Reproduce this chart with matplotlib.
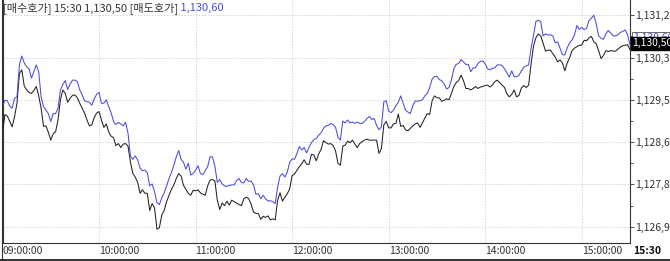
import numpy as np
import matplotlib
matplotlib.use("Agg")
import matplotlib.pyplot as plt
from matplotlib.ticker import FixedLocator, FuncFormatter
from matplotlib.lines import Line2D

plt.rcParams["font.family"] = ["Noto Sans CJK KR", "DejaVu Sans"]

# minutes after 09:00, one reading every 1.5 minutes (one row = 15 min)
minutes = np.arange(0, 390.1, 1.5)

# 매도호가 (ask, blue)
ask = [
    1129.34, 1129.47, 1129.46, 1129.35, 1129.31, 1129.51, 1129.54, 1130.19, 1130.37, 1130.23,
    1130.15, 1130.11, 1129.92, 1130.05, 1130.19, 1130.05, 1129.54, 1129.34, 1129.27, 1129.20,
    1129.04, 1129.20, 1129.20, 1129.31, 1129.68, 1129.79, 1129.87, 1129.69, 1129.80, 1129.88,
    1129.88, 1129.85, 1129.68, 1129.58, 1129.46, 1129.44, 1129.43, 1129.37, 1129.50, 1129.59,
    1129.63, 1129.41, 1129.41, 1129.48, 1129.34, 1129.22, 1129.04, 1128.98, 1129.02, 1128.99,
    1128.95, 1129.02, 1128.80, 1128.34, 1128.27, 1128.34, 1128.26, 1128.09, 1128.04, 1128.05,
    1128.00, 1127.73, 1127.77, 1127.61, 1127.39, 1127.35, 1127.49, 1127.59, 1127.73, 1127.88,
    1128.00, 1128.15, 1128.32, 1128.45, 1128.27, 1128.21, 1128.07, 1128.19, 1127.95, 1127.98,
    1128.05, 1128.14, 1127.98, 1127.96, 1128.04, 1128.12, 1128.32, 1128.32, 1128.13, 1127.80,
    1127.86, 1127.77, 1127.73, 1127.72, 1127.74, 1127.75, 1127.75, 1127.84, 1127.88, 1127.80,
    1127.79, 1127.88, 1127.82, 1127.83, 1127.75, 1127.56, 1127.57, 1127.47, 1127.54, 1127.47,
    1127.42, 1127.43, 1127.41, 1127.37, 1127.71, 1127.93, 1127.98, 1127.91, 1128.01, 1128.21,
    1128.28, 1128.27, 1128.39, 1128.53, 1128.46, 1128.51, 1128.40, 1128.51, 1128.61, 1128.67,
    1128.69, 1128.76, 1128.81, 1128.90, 1128.95, 1128.96, 1129.00, 1128.98, 1128.92, 1128.72,
    1128.66, 1129.05, 1129.01, 1129.07, 1129.01, 1129.03, 1129.00, 1129.03, 1129.00, 1129.00,
    1129.04, 1129.10, 1129.14, 1129.08, 1129.10, 1128.96, 1128.87, 1128.93, 1129.44, 1129.46,
    1129.25, 1129.22, 1129.27, 1129.36, 1129.43, 1129.56, 1129.41, 1129.27, 1129.23, 1129.20,
    1129.36, 1129.46, 1129.45, 1129.46, 1129.48, 1129.56, 1129.61, 1129.73, 1129.90, 1129.95,
    1129.96, 1129.89, 1129.87, 1129.80, 1129.70, 1129.73, 1129.88, 1130.11, 1130.20, 1130.22,
    1130.30, 1130.25, 1130.20, 1130.20, 1130.05, 1130.13, 1130.13, 1130.22, 1130.26, 1130.27,
    1130.21, 1130.11, 1130.09, 1130.12, 1130.13, 1130.19, 1130.19, 1130.18, 1130.11, 1130.03,
    1129.94, 1130.07, 1129.95, 1129.95, 1129.98, 1130.07, 1130.14, 1130.17, 1130.19, 1130.53,
    1130.78, 1131.07, 1131.10, 1131.07, 1130.78, 1130.82, 1130.80, 1130.80, 1130.78, 1130.64,
    1130.66, 1130.53, 1130.40, 1130.39, 1130.54, 1130.64, 1130.70, 1130.80, 1130.99, 1130.91,
    1130.95, 1130.91, 1130.93, 1131.09, 1131.14, 1131.20, 1131.03, 1130.78, 1130.73, 1130.71,
    1130.82, 1130.89, 1130.84, 1130.78, 1130.78, 1130.80, 1130.85, 1130.87, 1130.90, 1130.80,
    1130.60,
]

# 매수호가 (bid, black)
bid = [
    1128.80, 1129.18, 1129.15, 1129.04, 1128.93, 1129.14, 1129.41, 1130.01, 1130.09, 1129.76,
    1129.68, 1129.63, 1129.61, 1129.67, 1129.75, 1129.56, 1129.31, 1128.94, 1128.95, 1128.82,
    1128.66, 1128.79, 1128.83, 1129.07, 1129.48, 1129.68, 1129.61, 1129.43, 1129.51, 1129.57,
    1129.58, 1129.52, 1129.41, 1129.31, 1129.21, 1129.07, 1128.95, 1128.97, 1129.12, 1129.21,
    1129.24, 1129.07, 1128.92, 1128.99, 1128.83, 1128.74, 1128.71, 1128.55, 1128.59, 1128.51,
    1128.58, 1128.59, 1128.54, 1128.22, 1127.98, 1127.91, 1127.80, 1127.58, 1127.65, 1127.58,
    1127.58, 1127.23, 1127.37, 1127.28, 1126.85, 1126.88, 1127.14, 1127.23, 1127.41, 1127.54,
    1127.66, 1127.75, 1127.88, 1127.98, 1127.93, 1127.74, 1127.66, 1127.58, 1127.54, 1127.64,
    1127.63, 1127.65, 1127.59, 1127.56, 1127.54, 1127.73, 1127.85, 1127.86, 1127.83, 1127.44,
    1127.25, 1127.38, 1127.33, 1127.42, 1127.34, 1127.44, 1127.41, 1127.38, 1127.35, 1127.33,
    1127.47, 1127.50, 1127.47, 1127.36, 1127.20, 1127.17, 1127.17, 1127.05, 1127.11, 1127.09,
    1127.12, 1127.04, 1127.06, 1127.04, 1127.44, 1127.59, 1127.42, 1127.50, 1127.57, 1127.67,
    1127.94, 1127.97, 1128.05, 1128.12, 1128.18, 1128.26, 1128.17, 1128.17, 1128.37, 1128.36,
    1128.24, 1128.38, 1128.47, 1128.65, 1128.61, 1128.58, 1128.59, 1128.55, 1128.44, 1128.19,
    1128.15, 1128.54, 1128.56, 1128.64, 1128.61, 1128.66, 1128.58, 1128.51, 1128.59, 1128.63,
    1128.66, 1128.68, 1128.66, 1128.66, 1128.66, 1128.66, 1128.39, 1128.49, 1128.97, 1129.04,
    1128.91, 1128.91, 1128.99, 1129.00, 1129.19, 1128.94, 1128.96, 1128.87, 1128.85, 1128.90,
    1128.95, 1128.99, 1129.01, 1128.92, 1129.01, 1129.11, 1129.20, 1129.18, 1129.46, 1129.56,
    1129.52, 1129.52, 1129.45, 1129.47, 1129.50, 1129.48, 1129.61, 1129.75, 1129.83, 1129.87,
    1129.98, 1129.87, 1129.71, 1129.71, 1129.68, 1129.71, 1129.75, 1129.71, 1129.74, 1129.75,
    1129.77, 1129.78, 1129.74, 1129.78, 1129.85, 1129.88, 1129.83, 1129.78, 1129.73, 1129.60,
    1129.54, 1129.59, 1129.68, 1129.54, 1129.57, 1129.72, 1129.77, 1129.73, 1129.78, 1130.20,
    1130.57, 1130.74, 1130.82, 1130.78, 1130.63, 1130.47, 1130.49, 1130.49, 1130.42, 1130.35,
    1130.25, 1130.29, 1130.23, 1130.07, 1130.23, 1130.34, 1130.48, 1130.53, 1130.56, 1130.59,
    1130.59, 1130.69, 1130.68, 1130.74, 1130.77, 1130.66, 1130.62, 1130.48, 1130.32, 1130.38,
    1130.48, 1130.46, 1130.48, 1130.47, 1130.47, 1130.51, 1130.55, 1130.58, 1130.59, 1130.60,
    1130.50,
]

time_ticks = [0, 60, 120, 180, 240, 300, 360]
time_labels = ["09:00:00", "10:00:00", "11:00:00", "12:00:00", "13:00:00", "14:00:00", "15:00:00"]
price_ticks = [1126.90, 1127.76, 1128.62, 1129.48, 1130.34, 1131.20]

last_time = "15:30"
last_bid = 1130.50
last_ask = 1130.60

BLUE = "#4b4bdc"
DARK = "#222222"
W, H = 670, 261


def fmt(v, nd):
    # comma as decimal separator, as the trading terminal shows it
    return f"{v:,.{nd}f}".replace(".", ",")


fig = plt.figure(figsize=(W / 100, H / 100), dpi=100)
ax = fig.add_axes([2.5 / W, 18 / H, 627.5 / W, 243 / H])

ax.plot(minutes, bid, color=DARK, lw=0.75, zorder=3)
ax.plot(minutes, ask, color=BLUE, lw=0.75, zorder=3)

ax.set_xlim(0, 390)
ax.set_ylim(1126.569, 1131.509)

ax.xaxis.set_major_locator(FixedLocator(time_ticks))
ax.set_xticklabels(time_labels, ha="left")
ax.tick_params(axis="x", length=0, pad=2, labelsize=7.5, labelcolor="#333333")

ax.yaxis.tick_right()
ax.yaxis.set_major_locator(FixedLocator(price_ticks))
ax.yaxis.set_minor_locator(FixedLocator(
    [(a + b) / 2 for a, b in zip(price_ticks[:-1], price_ticks[1:])]))
ax.yaxis.set_major_formatter(FuncFormatter(lambda v, p: fmt(v, 1)))
ax.tick_params(axis="y", which="major", direction="out", length=3, width=0.6,
               color="#333333", pad=1, labelsize=7.5, labelcolor="#333333")
ax.tick_params(axis="y", which="minor", direction="out", length=2, width=0.6,
               color="#333333")

ax.grid(True, which="major", color="#c8c8c8", lw=0.6, ls=(0, (1.5, 2)))
ax.set_axisbelow(True)
ax.spines["top"].set_visible(False)
for side in ["left", "right", "bottom"]:
    ax.spines[side].set_color("#333333")
    ax.spines[side].set_linewidth(0.8)

# last-price tags on the price axis (ask tag sits mostly behind the bid tag)
ax.annotate(fmt(last_ask, 2), xy=(1, last_ask), xycoords=ax.get_yaxis_transform(),
            xytext=(2, 4.5), textcoords="offset points", ha="left", va="center",
            fontsize=7.5, color=BLUE, annotation_clip=False, zorder=5,
            bbox=dict(boxstyle="square,pad=0.1", fc="white", ec="#333333", lw=0.5))
ax.annotate(fmt(last_bid, 2), xy=(1, last_bid), xycoords=ax.get_yaxis_transform(),
            xytext=(1.5, 4.5), textcoords="offset points", ha="left", va="center",
            fontsize=7.5, color="white", annotation_clip=False, zorder=6,
            bbox=dict(boxstyle="square,pad=0.12", fc="black", ec="black"))

ax.annotate(last_time, xy=(1, 0), xycoords="axes fraction", xytext=(2, -2),
            textcoords="offset points", ha="left", va="top", fontsize=7.5,
            fontweight="bold", color="#111111", annotation_clip=False)

# header
t1 = fig.text(3 / W, 1 - 8 / H, f"[매수호가] {last_time} {fmt(last_bid, 2)} [매도호가]",
              fontsize=8, color="#333333", va="center", ha="left")
ax.annotate(" " + fmt(last_ask, 2), xy=(1, 0.5), xycoords=t1, ha="left", va="center",
            fontsize=8, color=BLUE, annotation_clip=False)

# outer frame of the panel
fig.add_artist(Line2D([1.5 / W, 1.5 / W], [0, 1], color="#333333", lw=0.8))
fig.add_artist(Line2D([0, 1], [1.5 / H, 1.5 / H], color="#111111", lw=1.2))

fig.savefig("out.png", dpi=100, facecolor="white")
